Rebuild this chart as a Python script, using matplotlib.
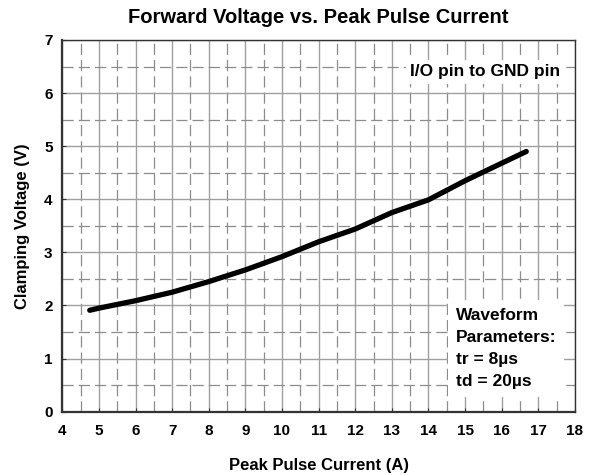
import numpy as np
import matplotlib.pyplot as plt
from matplotlib.ticker import MultipleLocator

# Clamping voltage curve
current = [4.75, 5, 6, 7, 8, 9, 10, 11, 12, 13, 14, 15, 16, 16.67]
voltage = [1.91, 1.95, 2.09, 2.25, 2.45, 2.67, 2.92, 3.20, 3.44, 3.75, 3.99, 4.35, 4.68, 4.90]

x_ticks = list(range(4, 19))
y_ticks = list(range(0, 8))

plt.rcParams['font.family'] = ['Liberation Sans', 'DejaVu Sans']
plt.rcParams['font.weight'] = 'bold'

fig = plt.figure(figsize=(5.93, 4.75), dpi=100)
ax = fig.add_axes([0.105, 0.1333, 0.8646, 0.7825])

ax.set_xlim(4, 18)
ax.set_ylim(0, 7)
ax.set_xticks(x_ticks)
ax.set_yticks(y_ticks)
ax.xaxis.set_minor_locator(MultipleLocator(0.5))
ax.yaxis.set_minor_locator(MultipleLocator(0.5))

ax.grid(which='major', color='#a0a0a0', linewidth=1.0, linestyle='-')
ax.grid(which='minor', color='#8c8c8c', linewidth=0.9, linestyle=(0, (9, 4)))
ax.set_axisbelow(True)

ax.tick_params(which='both', direction='in', length=0, labelsize=11)
ax.tick_params(which='major', length=3, color='#333333')
ax.tick_params(axis='x', pad=9)
ax.tick_params(axis='y', pad=7)
for lbl in ax.get_xticklabels() + ax.get_yticklabels():
    lbl.set_fontweight('bold')

for side in ['top', 'right']:
    ax.spines[side].set_linewidth(1.0)
    ax.spines[side].set_color('#333333')
for side in ['left', 'bottom']:
    ax.spines[side].set_linewidth(1.6)
    ax.spines[side].set_color('#333333')

ax.plot(current, voltage, color='black', linewidth=3.8, solid_capstyle='round', zorder=5)

ax.set_title("Forward Voltage vs. Peak Pulse Current", fontsize=14.5, fontweight='bold', pad=12)
ax.set_xlabel("Peak Pulse Current (A)", fontsize=12, fontweight='bold', labelpad=14)
ax.set_ylabel("Clamping Voltage (V)", fontsize=12, fontweight='bold', labelpad=10)

ax.text(0.971, 0.914, "I/O pin to GND pin", transform=ax.transAxes, ha='right', va='center',
        fontsize=12.5, fontweight='bold', zorder=6,
        bbox=dict(boxstyle='square,pad=0.25', fc='white', ec='none'))
ax.text(0.768, 0.279, "Waveform\nParameters:\ntr = 8\u00b5s\ntd = 20\u00b5s", transform=ax.transAxes,
        ha='left', va='top', fontsize=12.5, fontweight='bold', linespacing=1.58, zorder=6,
        bbox=dict(boxstyle='square,pad=0.45', fc='white', ec='none'))

fig.savefig("out.png", dpi=100)
